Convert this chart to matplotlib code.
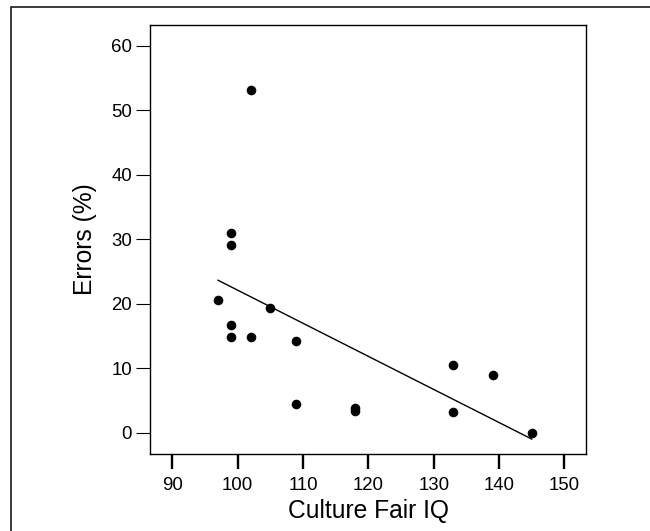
import numpy as np
import matplotlib
matplotlib.use("Agg")
import matplotlib.pyplot as plt
from matplotlib.patches import Rectangle

plt.rcParams['font.family'] = ['Liberation Sans', 'DejaVu Sans']

# culture fair IQ vs error percentage
iq = [102, 99, 99, 97, 105, 99, 99, 102, 109, 109, 118, 118, 133, 133, 139, 145]
errors = [53.2, 30.9, 29.1, 20.5, 19.3, 16.7, 14.8, 14.9, 14.2, 4.5, 3.9, 3.3, 10.5, 3.2, 8.9, 0.0]

xticks = [90, 100, 110, 120, 130, 140, 150]
yticks = [0, 10, 20, 30, 40, 50, 60]

fig = plt.figure(figsize=(6.5, 5.31), dpi=100)
ax = fig.add_axes([150/650, 77/531, 436/650, 429/531])

ax.scatter(iq, errors, s=48, color='black', zorder=3, linewidths=0)

# least squares line over the range of the data
x = np.array(iq, dtype=float)
y = np.array(errors, dtype=float)
k, b = np.polyfit(x, y, 1)
xl = np.array([x.min(), x.max()])
ax.plot(xl, k*xl + b, color='black', lw=1.0)

ax.set_xlim(86.6, 153.3)
ax.set_ylim(-3.3, 63.2)
ax.set_xticks(xticks)
ax.set_yticks(yticks)
ax.tick_params(axis='x', direction='out', length=10.5, width=1.7, labelsize=13.4, pad=6)
ax.tick_params(axis='y', direction='out', length=10, width=0.8, labelsize=13.4, pad=3)
for s in ax.spines.values():
    s.set_linewidth(1.0)

ax.set_xlabel('Culture Fair IQ', fontsize=17.7, labelpad=4)
ax.set_ylabel('Errors (%)', fontsize=17.7, labelpad=10)

# outer frame
fig.patches.append(Rectangle((11/650, -0.1), 1.1, 1 - 7/531 + 0.1, transform=fig.transFigure,
                             fill=False, edgecolor='#1a1a1a', lw=1.2))

fig.savefig('out.png', dpi=100)
